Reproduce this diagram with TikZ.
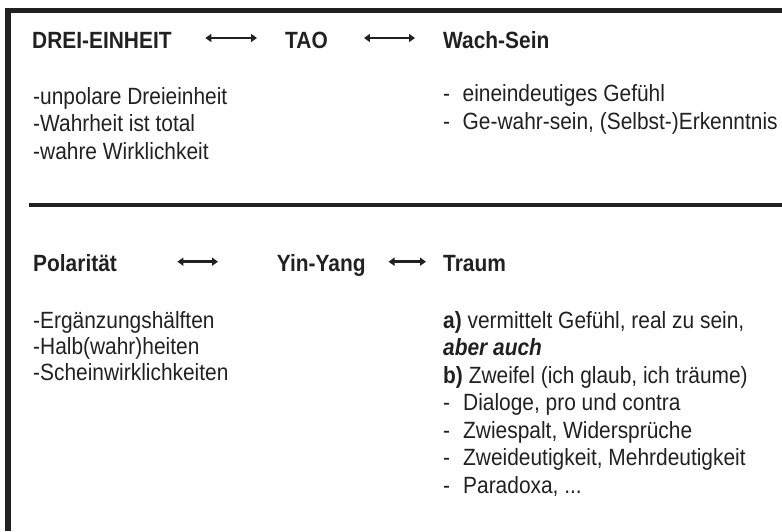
\documentclass[tikz,border=0pt]{standalone}
\usepackage{fontspec}
\setmainfont{Liberation Sans}[FakeStretch=0.89]
\usetikzlibrary{arrows.meta}
\definecolor{tinte}{gray}{0.13}
\newcommand{\strich}[1][19.5pt]{\makebox[#1][l]{-}}
\newcommand{\schrift}{\fontsize{23.5}{27.5}\selectfont}

\begin{document}
\begin{tikzpicture}[x=1pt,y=1pt,
        kopf/.style={anchor=base west, inner sep=0pt, text height=20pt,
            text depth=0pt, font=\schrift\bfseries, text=tinte},
        liste/.style={anchor=base west, inner sep=0pt, align=left,
            font=\schrift, text=tinte},
        pfeil/.style={{Triangle[length=6pt,width=8pt]}-{Triangle[length=6pt,width=8pt]},
            line width=2.6pt, draw=tinte}]
    \useasboundingbox (0,0) rectangle (782,-531);
    \draw[line width=5.5pt, draw=tinte, line join=miter] (8,-531) -- (8,-10.5) -- (782,-10.5);
    \draw[line width=4pt, draw=tinte] (29,-204.5) -- (782,-204.5);

    \node[kopf] (drei) at (32,-48) {DREI-EINHEIT};
    \node[kopf] (tao) at (285,-48) {TAO};
    \node[kopf] (wach) at (443,-48) {Wach-Sein};
    \draw[pfeil, shorten <=33.5pt, shorten >=28pt] (drei.east) -- (tao.west);
    \draw[pfeil, shorten <=36pt, shorten >=28pt] (tao.east) -- (wach.west);

    % base = Grundlinie der letzten Zeile
    \node[liste] (einheit) at (33,-159)
        {-unpolare Dreieinheit\\-Wahrheit ist total\\-wahre Wirklichkeit};
    \node[liste] (gefuehl) at (443,-129)
        {\strich eineindeutiges Gefühl\\\strich Ge-wahr-sein, (Selbst-)Erkenntnis};

    \node[kopf] (polar) at (33,-271.7) {Polarität};
    \node[kopf] (yin) at (276.7,-271.7) {Yin-Yang};
    \node[kopf] (traum) at (443,-271.7) {Traum};
    \draw[pfeil, shorten <=60.3pt, shorten >=58.7pt] (polar.east) -- (yin.west);
    \draw[pfeil, shorten <=22.7pt, shorten >=17pt] (yin.east) -- (traum.west);

    \node[liste] (haelften) at (33,-380)
        {-Ergänzungshälften\\[-1.5pt]-Halb(wahr)heiten\\[-1.5pt]-Scheinwirklichkeiten};
    \node[liste] (zweifel) at (443,-493)
        {\textbf{a)} vermittelt Gefühl, real zu sein,\\
        \textbf{\textit{aber auch}}\\
        \textbf{b)} Zweifel (ich glaub, ich träume)\\
        \strich[20pt]Dialoge, pro und contra\\
        \strich[20pt]Zwiespalt, Widersprüche\\
        \strich[20pt]Zweideutigkeit, Mehrdeutigkeit\\
        \strich[20pt]Paradoxa, ...};
\end{tikzpicture}
\end{document}
